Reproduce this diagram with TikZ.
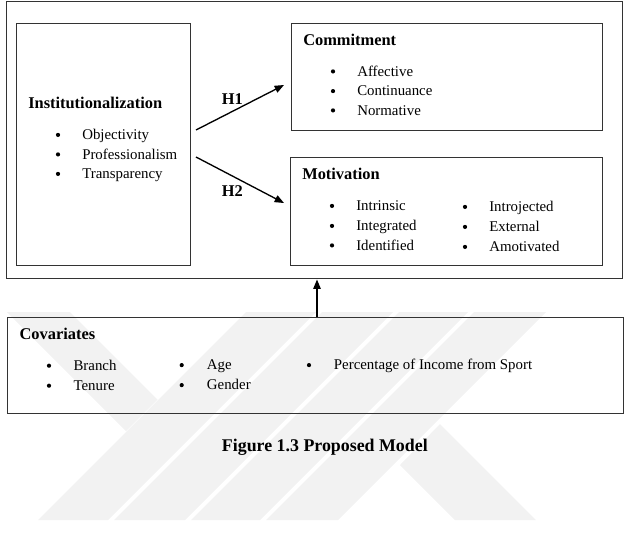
\documentclass[tikz,border=0pt]{standalone}
\usepackage{fontspec}
\setmainfont{Liberation Serif}
\usetikzlibrary{arrows.meta}
\begin{document}
\begin{tikzpicture}[x=0.75pt,y=-0.75pt,
 box/.style={draw=black!80, line width=1.1pt, inner sep=0pt, anchor=north west},
 ttl/.style={font=\fontsize{12.3}{14}\selectfont\bfseries, anchor=base west, inner sep=0pt},
 itm/.style={font=\fontsize{11.15}{13}\selectfont, anchor=base west, inner sep=0pt},
 bul/.style={circle, fill=black, draw=none, inner sep=0pt, minimum size={4.2*0.75pt}, yshift={4.6*0.75pt}},
 arr/.style={draw=black, line width=1pt, -{Triangle[length=7pt,width=5.5pt]}},
 wm/.style={fill=black!5, draw=none}]
\useasboundingbox (0,0) rectangle (624,532);
% watermark
\fill[wm] (7,312) -- (70,312) -- (157.5,399.5) -- (126,431) -- cycle;
\fill[wm] (246,312) -- (316,312) -- (108,520) -- (38,520) -- cycle;
\fill[wm] (322,312) -- (393,312) -- (185,520) -- (114,520) -- cycle;
\fill[wm] (399,312) -- (468,312) -- (260,520) -- (191,520) -- cycle;
\fill[wm] (474,312) -- (546,312) -- (338,520) -- (266,520) -- cycle;
\fill[wm] (440,424) -- (536,520) -- (455,520) -- (400,465) -- cycle;
% boxes
\node[box, minimum width={616*0.75pt}, minimum height={277*0.75pt}] (outer) at (6,1) {};
\node[box, minimum width={174*0.75pt}, minimum height={242*0.75pt}] (inst) at (16,23) {};
\node[box, minimum width={311*0.75pt}, minimum height={107*0.75pt}] (comm) at (291,23) {};
\node[box, minimum width={312*0.75pt}, minimum height={108*0.75pt}] (motiv) at (290,157) {};
\node[box, minimum width={616*0.75pt}, minimum height={96*0.75pt}] (cov) at (7,317) {};
% institutionalization
\node[ttl] (instT) at (28,108) {Institutionalization};
\node[bul] (ib1) at (58,139.5) {};
\node[bul] (ib2) at (58,159) {};
\node[bul] (ib3) at (58,178.5) {};
\node[itm] (i1) at (82,139.5) {Objectivity};
\node[itm] (i2) at (82,159) {Professionalism};
\node[itm] (i3) at (82,178.5) {Transparency};
% commitment
\node[ttl] (commT) at (303,45) {Commitment};
\node[bul] (cb1) at (333,76) {};
\node[bul] (cb2) at (333,95.7) {};
\node[bul] (cb3) at (333,115) {};
\node[itm] (c1) at (357,76) {Affective};
\node[itm] (c2) at (357,95.7) {Continuance};
\node[itm] (c3) at (357,115) {Normative};
% motivation
\node[ttl] (motT) at (302,179) {Motivation};
\node[bul] (mb1) at (332,210.5) {};
\node[bul] (mb2) at (332,230.5) {};
\node[bul] (mb3) at (332,250) {};
\node[itm] (m1) at (356,210.5) {Intrinsic};
\node[itm] (m2) at (356,230.5) {Integrated};
\node[itm] (m3) at (356,250) {Identified};
\node[bul] (mb4) at (465,211.5) {};
\node[bul] (mb5) at (465,231.5) {};
\node[bul] (mb6) at (465,251.5) {};
\node[itm] (m4) at (489,211.5) {Introjected};
\node[itm] (m5) at (489,231.5) {External};
\node[itm] (m6) at (489,251.5) {Amotivated};
% hypotheses
\node[ttl] (h1) at (221.7,104) {H1};
\node[ttl] (h2) at (221.7,196.7) {H2};
\coordinate (h1s) at (196,130);
\coordinate (h1e) at (284,85);
\coordinate (h2s) at (196,157);
\coordinate (h2e) at (284,203);
\draw[arr] (h1s) -- (h1e);
\draw[arr] (h2s) -- (h2e);
% covariates
\node[ttl] (covT) at (19.3,339) {Covariates};
\node[bul] (vb1) at (49,370.3) {};
\node[bul] (vb2) at (49,390.3) {};
\node[itm] (v1) at (73.3,370.3) {Branch};
\node[itm] (v2) at (73.3,390.3) {Tenure};
\node[bul] (vb3) at (181.7,369.7) {};
\node[bul] (vb4) at (181.7,389.7) {};
\node[itm] (v3) at (206.7,369.7) {Age};
\node[itm] (v4) at (206.7,389.7) {Gender};
\node[bul] (vb5) at (309,369.7) {};
\node[itm] (v5) at (333.7,369.7) {Percentage of Income from Sport};
% covariates arrow
\coordinate (ax) at (317,0);
\draw[arr] (cov.north -| ax) -- (outer.south -| ax);
% caption
\node[font=\fontsize{13.4}{16}\selectfont\bfseries, anchor=base west, inner sep=0pt] (cap) at (221.7,451.3) {Figure 1.3 Proposed Model};
\end{tikzpicture}
\end{document}
